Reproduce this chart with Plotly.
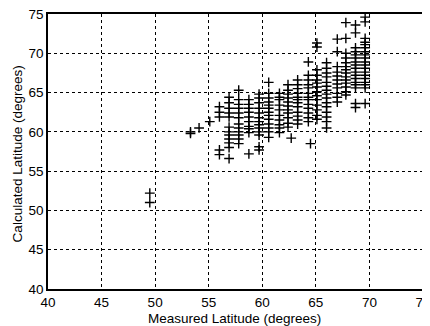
import plotly.graph_objects as go

# Measured latitude of each station column and calculated latitudes
col_x = [49.5, 53.3, 54.1, 55.1, 56.0, 56.9, 57.8, 58.75, 59.7, 60.6, 61.6, 62.4, 63.3, 64.3, 65.1, 66.0, 67.0, 67.8, 68.7, 69.6]
col_y = [
    [52.2, 51.0],
    [59.8, 60.0],
    [60.5],
    [61.3],
    [63.2, 62.5, 61.9, 57.7, 57.1],
    [64.4, 63.7, 63.0, 62.4, 61.9, 60.6, 60.0, 59.6, 59.1, 58.6, 58.0, 56.6],
    [65.3, 64.1, 63.5, 63.0, 62.4, 61.8, 61.0, 60.5, 60.0, 59.6, 59.1, 58.5],
    [64.1, 63.5, 63.0, 62.5, 61.9, 61.3, 60.7, 60.4, 59.9, 57.2],
    [64.8, 64.3, 63.7, 63.0, 62.4, 61.8, 61.3, 60.9, 60.5, 60.0, 59.6, 58.1, 57.7],
    [66.3, 64.9, 64.3, 63.8, 63.4, 63.0, 62.5, 62.1, 61.6, 61.0, 60.5, 60.0, 59.3],
    [64.9, 64.4, 64.1, 63.4, 62.8, 62.1, 61.5, 60.9, 60.5, 59.9],
    [66.0, 65.3, 64.8, 64.3, 63.8, 63.3, 62.8, 62.4, 61.8, 61.1, 60.6],
    [66.6, 66.0, 65.5, 64.9, 64.4, 64.1, 63.7, 63.2, 62.5, 62.0, 61.5, 61.0],
    [68.9, 67.2, 66.6, 66.0, 65.6, 64.9, 64.4, 64.1, 63.5, 63.0, 62.4, 61.8, 61.3],
    [71.3, 70.8, 67.9, 67.2, 66.6, 66.2, 65.7, 65.1, 64.6, 64.1, 63.4, 62.8, 62.1, 61.6],
    [68.8, 68.1, 67.5, 67.0, 66.3, 65.8, 65.3, 64.8, 64.3, 63.7, 63.2, 62.5, 61.9, 61.3, 60.5],
    [71.8, 70.2, 68.3, 67.6, 67.1, 66.6, 66.1, 65.6, 64.9, 64.4, 63.8],
    [73.9, 71.9, 70.0, 69.4, 68.8, 68.3, 67.9, 67.5, 67.0, 66.6, 66.2, 65.7, 65.1, 64.7],
    [73.6, 72.6, 70.7, 70.2, 69.8, 69.4, 68.9, 68.5, 68.1, 67.6, 67.2, 66.8, 66.3, 66.0, 65.6, 63.6, 63.1],
    [74.6, 74.0, 71.9, 71.4, 71.1, 70.7, 70.2, 69.8, 69.4, 68.9, 68.5, 68.1, 67.6, 67.2, 66.8, 66.3, 66.0, 65.6, 63.6],
]
extra_x = [62.7, 64.5]
extra_y = [59.2, 58.5]

measured = [x for x, ys in zip(col_x, col_y) for _ in ys] + extra_x
calculated = [y for ys in col_y for y in ys] + extra_y

tick_vals = [40, 45, 50, 55, 60, 65, 70, 75]
x_title = "Measured Latitude (degrees)"
y_title = "Calculated Latitude (degrees)"

FONT = "Liberation Sans, Arial, sans-serif"

fig = go.Figure(go.Scatter(
    x=measured, y=calculated, mode="markers",
    marker=dict(symbol="cross-thin", size=7, line=dict(color="black", width=1.4), color="black"),
    showlegend=False,
))

axis_common = dict(
    tickvals=tick_vals,
    showgrid=True, gridcolor="black", griddash="dot", gridwidth=1,
    showline=True, mirror=True, linecolor="black", linewidth=1.5,
    zeroline=False, ticks="", automargin=False, ticklabeloverflow="allow",
    tickfont=dict(family=FONT, size=13.5, color="black"),
)

fig.update_xaxes(range=[40, 75], **axis_common)
fig.update_yaxes(range=[40, 75], **axis_common)

fig.add_annotation(text=x_title, xref="paper", yref="paper", x=0.497, y=-0.074,
                   xanchor="center", yanchor="top", showarrow=False,
                   font=dict(family=FONT, size=13.5, color="black"))
fig.add_annotation(text=y_title, xref="paper", yref="paper", x=-0.057, y=0.49,
                   xanchor="right", yanchor="middle", textangle=-90, showarrow=False,
                   font=dict(family=FONT, size=13.5, color="black"))

# page body has an 8px default margin, so the figure is sized to fit the window
fig.update_layout(
    width=422, height=318,
    margin=dict(l=40, r=7, t=6, b=37),
    paper_bgcolor="white", plot_bgcolor="white",
)

fig.write_html("out.html")
